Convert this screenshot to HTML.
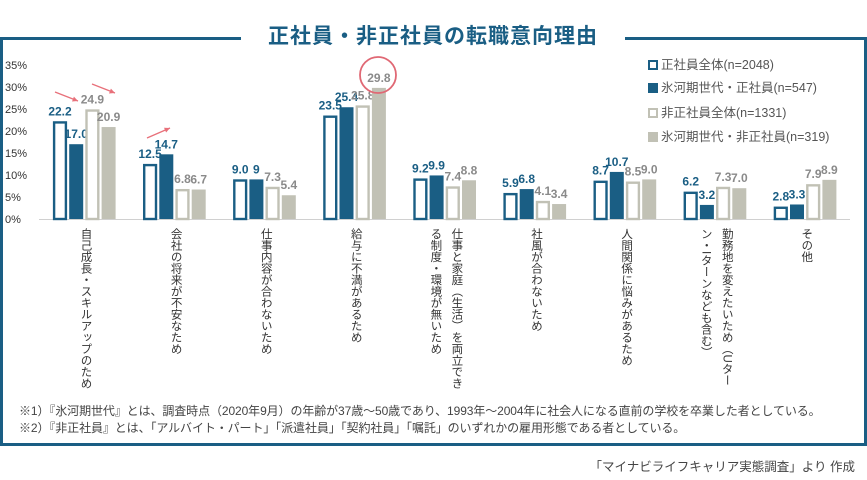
<!DOCTYPE html>
<html><head><meta charset="utf-8">
<style>
html,body{margin:0;padding:0;background:#fff;}
body{width:867px;height:480px;position:relative;overflow:hidden;font-family:"Liberation Sans","Noto Sans CJK JP",sans-serif;}
#frame{position:absolute;left:0;top:37px;width:861px;height:403px;border:3px solid #1a5e84;}
#title{position:absolute;left:241px;top:20px;width:384px;height:34px;background:#fff;text-align:center;font-size:21px;font-weight:bold;color:#1a5e84;line-height:34px;letter-spacing:1px;}
.note{position:absolute;left:19px;font-size:12px;color:#444;white-space:nowrap;letter-spacing:-0.1px;}
#src{position:absolute;right:12px;top:456px;font-size:12.5px;color:#444;}
.cat{position:absolute;top:228px;writing-mode:vertical-rl;font-size:11.5px;color:#333;line-height:21px;}
.leg{position:absolute;left:648px;font-size:12.5px;color:#555;white-space:nowrap;}
.sw{display:inline-block;width:10px;height:10px;box-sizing:border-box;margin-right:3px;vertical-align:-1px;}
</style></head>
<body>
<div id="frame"></div>
<div id="title">正社員・非正社員の転職意向理由</div>
<svg id="chart" width="867" height="480" style="position:absolute;left:0;top:0"></svg>
<div id="cats"></div>
<div class="leg" style="top:54px"><span class="sw" style="border:2px solid #1a5e84"></span>正社員全体(n=2048)</div>
<div class="leg" style="top:77px"><span class="sw" style="background:#1a5e84"></span>氷河期世代・正社員(n=547)</div>
<div class="leg" style="top:102px"><span class="sw" style="border:2px solid #c1c1b5"></span>非正社員全体(n=1331)</div>
<div class="leg" style="top:126px"><span class="sw" style="background:#c1c1b5"></span>氷河期世代・非正社員(n=319)</div>
<div class="note" style="top:402px">※1）『氷河期世代』とは、調査時点（2020年9月）の年齢が37歳〜50歳であり、1993年〜2004年に社会人になる直前の学校を卒業した者としている。</div>
<div class="note" style="top:419px">※2）『非正社員』とは、「アルバイト・パート」「派遣社員」「契約社員」「嘱託」のいずれかの雇用形態である者としている。</div>
<div id="src">「マイナビライフキャリア実態調査」より 作成</div>
<script>
const categories=["自己成長・スキルアップのため","会社の将来が不安なため","仕事内容が合わないため","給与に不満があるため","仕事と家庭（生活）を両立できる制度・環境が無いため","社風が合わないため","人間関係に悩みがあるため","勤務地を変えたいため（Uターン・Iターンなども含む）","その他"];
const catLines=[["自己成長・スキルアップのため"],["会社の将来が不安なため"],["仕事内容が合わないため"],["給与に不満があるため"],["仕事と家庭（生活）を両立でき","る制度・環境が無いため"],["社風が合わないため"],["人間関係に悩みがあるため"],["勤務地を変えたいため（Uター","ン・Iターンなども含む）"],["その他"]];
const regularAll=[22.2,12.5,9.0,23.5,9.2,5.9,8.7,6.2,2.8];
const iceRegular=[17.0,14.7,9.0,25.4,9.9,6.8,10.7,3.2,3.3];
const nonRegularAll=[24.9,6.8,7.3,25.8,7.4,4.1,8.5,7.3,7.9];
const iceNonRegular=[20.9,6.7,5.4,29.8,8.8,3.4,9.0,7.0,8.9];
const valueLabels=[
 ["22.2","12.5","9.0","23.5","9.2","5.9","8.7","6.2","2.8"],
 ["17.0","14.7","9","25.4","9.9","6.8","10.7","3.2","3.3"],
 ["24.9","6.8","7.3","25.8","7.4","4.1","8.5","7.3","7.9"],
 ["20.9","6.7","5.4","29.8","8.8","3.4","9.0","7.0","8.9"]];
const yTicks=[0,5,10,15,20,25,30,35];
const yTickLabels=["0%","5%","10%","15%","20%","25%","30%","35%"];

const svg=document.getElementById('chart');
const NS='http://www.w3.org/2000/svg';
const y0=219,pxPer=4.4,x0=39,step=90.1;
function yScale(v){return y0-v*pxPer;}
function xGroup(i){return x0+i*step;}
function mk(t,a){const e=document.createElementNS(NS,t);for(const k in a)e.setAttribute(k,a[k]);svg.appendChild(e);return e;}

yTicks.forEach((t,i)=>{
 const e=mk('text',{x:5,y:yScale(t)+4,'font-size':'11','fill':'#333'});
 e.textContent=yTickLabels[i];
 
 
});
const ax=mk('line',{x1:x0,x2:850,y1:y0+0.5,y2:y0+0.5,stroke:'#d0d0d0','stroke-width':1});



const series=[regularAll,iceRegular,nonRegularAll,iceNonRegular];
const styles=[{fill:'#fff',stroke:'#1a5e84'},{fill:'#1a5e84',stroke:'none'},{fill:'#fff',stroke:'#c1c1b5'},{fill:'#c1c1b5',stroke:'none'}];
const labelColors=['#1a5e84','#1a5e84','#8a8a8a','#8a8a8a'];
const bw=14,gap=2.2;
series.forEach((s,si)=>{
 s.forEach((v,ci)=>{
  const x=xGroup(ci)+14+si*(bw+gap);
  const top=yScale(v);
  const st=styles[si];
  let r;
  if(st.stroke!=='none') r=mk('rect',{x:x+1.1,y:top+1.1,width:bw-2.2,height:y0-top-1.1,fill:st.fill,stroke:st.stroke,'stroke-width':2.4});
  else r=mk('rect',{x:x,y:top,width:bw,height:y0-top,fill:st.fill});
  
  
  const t=mk('text',{x:x+bw/2,y:top-6,'font-size':'12','font-weight':'bold','fill':labelColors[si],'text-anchor':'middle'});
  t.textContent=valueLabels[si][ci];
  
  
 });
});
function arrow(x1,y1,x2,y2){
 const l=mk('line',{x1:x1,y1:y1,x2:x2,y2:y2,stroke:'#e8707a','stroke-width':1.3});
 
 
 const a=Math.atan2(y2-y1,x2-x1),h=6;
 const p=mk('polygon',{points:`${x2},${y2} ${x2-h*Math.cos(a-0.45)},${y2-h*Math.sin(a-0.45)} ${x2-h*Math.cos(a+0.45)},${y2-h*Math.sin(a+0.45)}`,fill:'#e8707a'});
 
 
}
arrow(55,92,78,101);
arrow(92,84,115,93);
arrow(147,138,170,128);
const c=mk('circle',{cx:378,cy:75,r:18,fill:'none',stroke:'#e06874','stroke-width':1.8});



const cats=document.getElementById('cats');
catLines.forEach((lines,i)=>{
 const d=document.createElement('div');
 d.className='cat';
 
 
 d.innerHTML=lines.join('<br>');
 cats.appendChild(d);
 const w=lines.length*21;
 d.style.left=(xGroup(i)+46-w/2)+'px';
});
</script>
</body></html>
